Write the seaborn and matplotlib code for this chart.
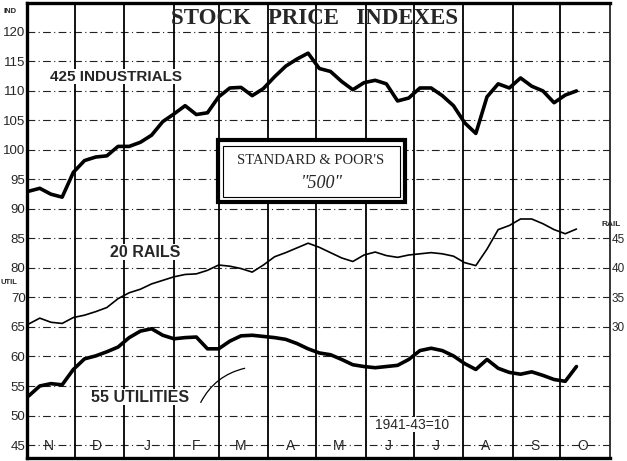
import pandas as pd
import numpy as np
import matplotlib
matplotlib.use("Agg")
import matplotlib.pyplot as plt
import matplotlib.patches as patches
import matplotlib.transforms as mtransforms
import seaborn as sns

# =========================
# DATA (weekly readings)
# =========================
week_start = "1942-11-02"

industrials = [93.0, 93.5, 92.5, 92.0, 96.2, 98.2, 98.8, 99.0, 100.6, 100.6,
               101.3, 102.5, 104.8, 106.1, 107.5, 106.0, 106.3, 109.0, 110.5, 110.6,
               109.2, 110.4, 112.4, 114.2, 115.4, 116.4, 113.8, 113.3, 111.6, 110.2,
               111.4, 111.8, 111.2, 108.3, 108.8, 110.5, 110.5, 109.2, 107.5, 104.6,
               102.8, 109.0, 111.2, 110.5, 112.2, 110.8, 110.0, 108.0, 109.3, 110.0]

rails = [30.5, 31.5, 30.8, 30.6, 31.6, 32.0, 32.6, 33.3, 34.8, 35.8,
         36.4, 37.3, 37.9, 38.5, 38.9, 39.0, 39.6, 40.5, 40.3, 39.9,
         39.3, 40.5, 41.9, 42.6, 43.4, 44.2, 43.5, 42.6, 41.7, 41.1,
         42.2, 42.7, 42.1, 41.8, 42.2, 42.4, 42.6, 42.4, 42.0, 40.9,
         40.4, 43.2, 46.5, 47.2, 48.3, 48.3, 47.5, 46.5, 45.8, 46.6]

utilities = [53.3, 55.0, 55.4, 55.2, 57.8, 59.6, 60.1, 60.8, 61.6, 63.2,
             64.3, 64.7, 63.6, 63.0, 63.2, 63.3, 61.3, 61.3, 62.6, 63.5,
             63.6, 63.4, 63.2, 62.9, 62.2, 61.3, 60.6, 60.3, 59.5, 58.6,
             58.3, 58.1, 58.3, 58.5, 59.5, 61.0, 61.4, 61.0, 60.1, 58.8,
             57.8, 59.5, 58.0, 57.3, 57.0, 57.4, 56.8, 56.1, 55.8, 58.3]

month_labels = ["N", "D", "J", "F", "M", "A", "M", "J", "J", "A", "S", "O"]

left_tick_pos = [50, 55, 60, 65, 70, 75, 80, 85, 90, 95, 100, 105, 110, 115, 120]
left_tick_lab = ["45", "50", "55", "60", "65", "70", "80", "85", "90", "95",
                 "100", "105", "110", "115", "120"]
rail_ticks = [30, 35, 40, 45]

# the three indexes share one drawing scale (industrial units)
RAIL_SHIFT = 40
UTIL_SHIFT = 5

dates = pd.date_range(week_start, periods=len(industrials), freq="7D")
df = pd.DataFrame({
    "date": dates,
    "ind": industrials,
    "rail": np.array(rails) + RAIL_SHIFT,
    "util": np.array(utilities) + UTIL_SHIFT,
})

# =========================
# STYLE
# =========================
sns.set_style("white")
plt.rcParams["font.family"] = ["Liberation Sans", "DejaVu Sans"]

fig = plt.figure(figsize=(6.27, 4.61), dpi=100)
ax = fig.add_axes([27 / 627, 3 / 461, 583 / 627, 455 / 461])

ylo, yhi = 47.8, 124.9
x0, x1 = pd.Timestamp("1942-11-01"), pd.Timestamp("1943-11-01")

# grid
for v in left_tick_pos:
    ax.axhline(v, color="#222222", lw=0.8, ls=(0, (7, 3, 1, 3)), zorder=1)
month_starts = pd.date_range("1942-12-01", periods=11, freq="MS")
for m in month_starts:
    ax.axvline(m, color="black", lw=1.3, zorder=1)

# series
sns.lineplot(data=df, x="date", y="ind", ax=ax, color="black", lw=2.6, zorder=3)
sns.lineplot(data=df, x="date", y="rail", ax=ax, color="black", lw=1.2, zorder=3)
sns.lineplot(data=df, x="date", y="util", ax=ax, color="black", lw=2.6, zorder=3)

ax.set_xlim(x0, x1)
ax.set_ylim(ylo, yhi)
ax.set_xlabel("")
ax.set_ylabel("")
ax.set_xticks([])
ax.set_yticks(left_tick_pos)
ax.set_yticklabels(left_tick_lab, fontsize=9.5)
ax.tick_params(axis="y", length=0, pad=1)

for side in ["left", "bottom", "top"]:
    ax.spines[side].set_linewidth(2.4)
    ax.spines[side].set_color("black")
ax.spines["right"].set_linewidth(1.3)

# right-hand rail scale
ax2 = ax.twinx()
ax2.set_ylim(ylo - RAIL_SHIFT, yhi - RAIL_SHIFT)
ax2.set_yticks(rail_ticks)
ax2.set_yticklabels([str(t) for t in rail_ticks], fontsize=8.5)
ax2.tick_params(axis="y", length=0, pad=1)
for s in ax2.spines.values():
    s.set_visible(False)
ax2.text(0.985, 87.4 - RAIL_SHIFT, "RAIL",
         transform=mtransforms.blended_transform_factory(ax2.transAxes, ax2.transData),
         fontsize=6, fontweight="bold", ha="left", va="center")

ax.text(-0.04, 123.4, "IND", transform=mtransforms.blended_transform_factory(ax.transAxes, ax.transData),
        fontsize=5.5, fontweight="bold", ha="left", va="center")
ax.text(-0.045, 77.6, "UTIL", transform=mtransforms.blended_transform_factory(ax.transAxes, ax.transData),
        fontsize=5.5, fontweight="bold", ha="left", va="center")

# month labels
trans = mtransforms.blended_transform_factory(ax.transData, ax.transAxes)
mids = pd.date_range("1942-11-01", periods=12, freq="MS") + pd.Timedelta(days=14)
for m, lab in zip(mids, month_labels):
    ax.text(m, 0.012, lab, transform=trans, ha="center", va="bottom", fontsize=10)

# titles and labels
ax.text(0.494, 0.966, "STOCK   PRICE   INDEXES", transform=ax.transAxes, ha="center", va="center",
        family="Liberation Serif", fontweight="bold", fontsize=16.5, zorder=5)
ax.text(0.152, 0.838, "425 INDUSTRIALS", transform=ax.transAxes, ha="center", va="center",
        fontsize=11, fontweight="bold", zorder=5,
        bbox=dict(facecolor="white", edgecolor="none", pad=0.5))
ax.text(0.202, 0.452, "20 RAILS", transform=ax.transAxes, ha="center", va="center",
        fontsize=11.5, fontweight="bold", zorder=5,
        bbox=dict(facecolor="white", edgecolor="none", pad=0.5))
ax.text(0.194, 0.134, "55 UTILITIES", transform=ax.transAxes, ha="center", va="center",
        fontsize=11.5, fontweight="bold", zorder=5,
        bbox=dict(facecolor="white", edgecolor="none", pad=0.5))
ax.annotate("", xy=(pd.Timestamp("1943-03-19"), 63.1), xytext=(pd.Timestamp("1943-02-17"), 56.8),
            arrowprops=dict(arrowstyle="-", color="black", lw=0.9, connectionstyle="arc3,rad=-0.25"),
            zorder=4)
ax.text(0.66, 0.073, "1941-43=10", transform=ax.transAxes, ha="center", va="center",
        fontsize=10, zorder=5, bbox=dict(facecolor="white", edgecolor="none", pad=0.5))

# Standard & Poor's box
box = patches.Rectangle((0.328, 0.562), 0.32, 0.136, transform=ax.transAxes,
                        facecolor="white", edgecolor="black", lw=3, zorder=6)
ax.add_patch(box)
inner = patches.Rectangle((0.336, 0.574), 0.304, 0.112, transform=ax.transAxes,
                          facecolor="none", edgecolor="black", lw=0.8, zorder=6)
ax.add_patch(inner)
ax.text(0.487, 0.653, "STANDARD & POOR'S", transform=ax.transAxes, ha="center", va="center",
        family="Liberation Serif", fontsize=10.5, zorder=7)
ax.text(0.506, 0.604, "\"500\"", transform=ax.transAxes, ha="center", va="center",
        family="Liberation Serif", style="italic", fontsize=13, zorder=7)

fig.savefig("out.png", dpi=100, facecolor="white")
